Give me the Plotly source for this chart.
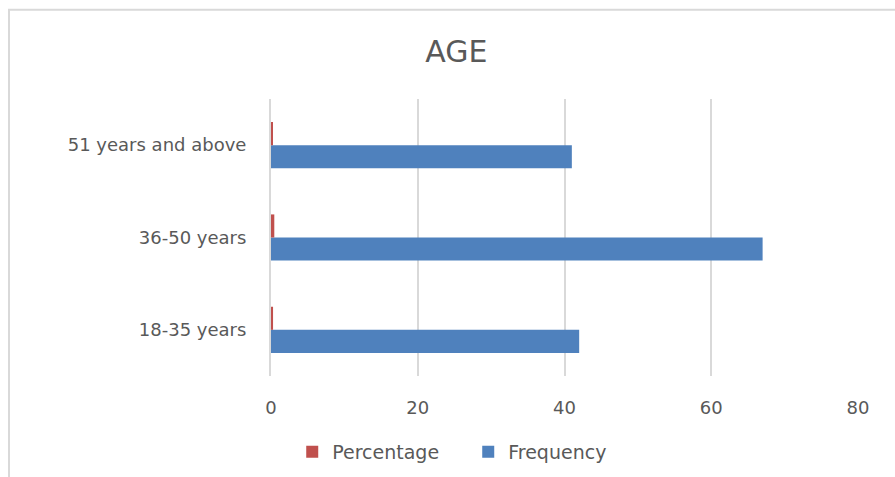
import plotly.graph_objects as go

# Age groups, bottom to top
age_groups = ["18-35 years", "36-50 years", "51 years and above"]
frequency = [42, 67, 41]
percentage = [0.28, 0.45, 0.27]

x_ticks = [0, 20, 40, 60, 80]

BLUE = "#4f81bd"
RED = "#c0504d"
GRID = "#d9d9d9"
TEXT = "#595959"
FONT = "DejaVu Sans"

fig = go.Figure()
fig.add_trace(go.Bar(
    y=age_groups, x=frequency, name="Frequency", orientation="h",
    marker=dict(color=BLUE, line=dict(width=0)),
))
fig.add_trace(go.Bar(
    y=age_groups, x=percentage, name="Percentage", orientation="h",
    marker=dict(color=RED, line=dict(width=0)),
))

fig.update_layout(
    width=895, height=477,
    margin=dict(l=271, r=37, t=99, b=101, autoexpand=False),
    paper_bgcolor="white", plot_bgcolor="white",
    barmode="group", bargap=0.5, bargroupgap=0,
    title=dict(text="AGE", x=0.51, xanchor="center", y=0.891, yanchor="middle",
               font=dict(family=FONT, size=30, color=TEXT)),
    font=dict(family=FONT, size=18, color=TEXT),
    legend=dict(orientation="h", traceorder="reversed",
                x=0.336, xanchor="center", y=-0.274, yanchor="middle",
                font=dict(family=FONT, size=19, color=TEXT),
                itemwidth=30, itemsizing="constant", entrywidth=131),
    showlegend=True,
)

fig.update_xaxes(
    range=[0, 80], tickvals=x_ticks, showgrid=True, gridcolor=GRID, gridwidth=2,
    zeroline=False, showline=False, ticks="", ticklabelstandoff=19, automargin=False,
    tickfont=dict(family=FONT, size=18, color=TEXT),
)
fig.update_yaxes(
    showgrid=False, zeroline=False, showline=True, linecolor=GRID, linewidth=2,
    ticks="", ticklabelstandoff=19, automargin=False,
    tickfont=dict(family=FONT, size=18, color=TEXT),
)

# Chart-area border
fig.add_shape(type="rect", xref="paper", yref="paper",
              x0=-0.4463, x1=2, y0=-1, y1=1.3223,
              line=dict(color=GRID, width=2), fillcolor="rgba(0,0,0,0)", layer="below")

fig.write_html("out.html")
